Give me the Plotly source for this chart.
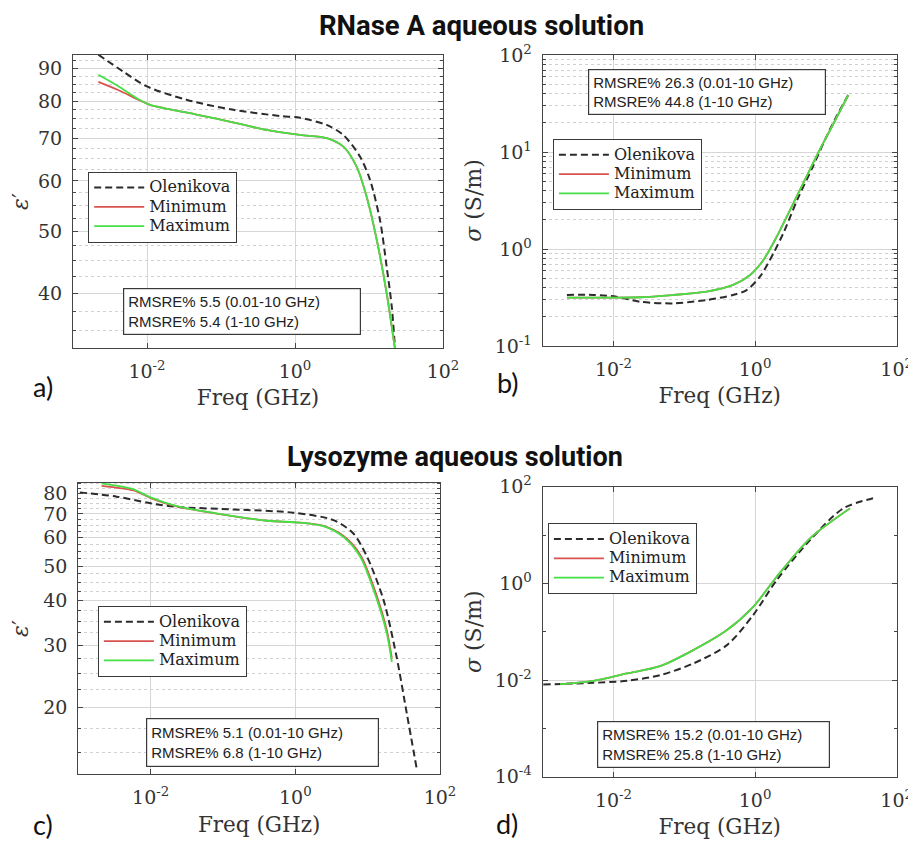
import numpy as np
import plotly.graph_objects as go

# page body has an 8px margin: figure is drawn 8px in from the window's top-left corner
OFF = 8
W, H = 916 - OFF, 842 - OFF

# ---------------- data (frequencies in GHz) ----------------
# a) RNase A, permittivity
a_ole_f = [0.0022, 0.0048, 0.01, 0.035, 0.147, 0.63, 1.17, 2.68, 4.5, 7.55, 10.3, 14.1, 17.3, 20.3, 22.4]
a_ole_v = [94.5, 88.9, 84.3, 80.3, 77.5, 75.8, 75.3, 73.4, 70.8, 65.5, 60.3, 52.1, 44.1, 38.2, 33.0]
a_mm_f = [0.0022, 0.004, 0.008, 0.011, 0.031, 0.087, 0.41, 1.17, 2.68, 4.5, 6.8, 9.3, 12.7, 17.3, 22.6]
a_min_v = [85.7, 83.3, 80.2, 78.9, 76.9, 75.1, 72.1, 70.8, 70.0, 67.9, 63.2, 56.7, 48.6, 40.1, 32.6]
a_max_v = [87.9, 84.5, 80.3, 78.9, 76.9, 75.1, 72.1, 70.8, 70.0, 67.9, 63.2, 56.7, 48.6, 40.1, 32.6]

# b) RNase A, conductivity
b_ole_f = [0.0022, 0.0052, 0.011, 0.0237, 0.07, 0.207, 0.49, 0.76, 1.17, 1.81, 2.5, 4.0, 6.5, 10.0, 14.0, 20.7]
b_ole_v = [0.336, 0.336, 0.322, 0.286, 0.275, 0.298, 0.336, 0.377, 0.518, 0.90, 1.45, 3.3, 7.0, 14.0, 23.0, 38.7]
b_mm_f = [0.0022, 0.0237, 0.07, 0.207, 0.49, 0.85, 1.31, 2.02, 3.11, 5.0, 8.0, 12.5, 20.7]
b_min_v = [0.315, 0.318, 0.336, 0.363, 0.426, 0.54, 0.77, 1.34, 2.52, 5.1, 10.2, 19.0, 38.7]
b_max_v = [0.315, 0.318, 0.336, 0.363, 0.426, 0.54, 0.77, 1.34, 2.52, 5.1, 10.2, 19.0, 38.7]

# c) Lysozyme, permittivity
c_ole_f = [0.00105, 0.0034, 0.01, 0.023, 0.139, 0.93, 3.37, 6.3, 9.8, 16.6, 25.1, 34.7, 47.9]
c_ole_v = [80.5, 78.3, 75.0, 73.3, 72.1, 70.6, 67.3, 61.8, 53.1, 40.1, 27.8, 19.3, 13.4]
c_mm_f = [0.0021, 0.0058, 0.01, 0.023, 0.081, 0.41, 1.17, 2.45, 4.6, 7.9, 13.5, 18.4, 21.6]
c_min_v = [84.0, 81.5, 77.6, 73.5, 70.2, 67.0, 66.2, 64.8, 60.8, 53.8, 41.0, 33.0, 27.5]
c_max_v = [85.3, 82.1, 77.9, 73.6, 70.3, 67.0, 66.2, 64.7, 60.4, 53.1, 40.1, 32.3, 26.9]

# d) Lysozyme, conductivity
d_ole_f = [0.00102, 0.0052, 0.0155, 0.0454, 0.134, 0.40, 0.94, 2.02, 5.97, 17.6, 52.0]
d_ole_v = [0.0081, 0.00875, 0.00964, 0.0126, 0.022, 0.0527, 0.221, 1.17, 7.87, 35.6, 60.3]
d_mm_f = [0.00176, 0.0052, 0.0155, 0.0454, 0.134, 0.40, 0.94, 2.02, 5.97, 21.9]
d_min_v = [0.0082, 0.00964, 0.0137, 0.0194, 0.0416, 0.108, 0.328, 1.37, 8.55, 35.6]
d_max_v = [0.0082, 0.00964, 0.0137, 0.0194, 0.0416, 0.108, 0.328, 1.37, 8.55, 35.6]

series_names = ["Olenikova", "Minimum", "Maximum"]
rmsre_text = {
    "a": ["RMSRE% 5.5 (0.01-10 GHz)", "RMSRE% 5.4 (1-10 GHz)"],
    "b": ["RMSRE% 26.3 (0.01-10 GHz)", "RMSRE% 44.8 (1-10 GHz)"],
    "c": ["RMSRE% 5.1 (0.01-10 GHz)", "RMSRE% 6.8 (1-10 GHz)"],
    "d": ["RMSRE% 15.2 (0.01-10 GHz)", "RMSRE% 25.8 (1-10 GHz)"],
}
x_ticks = [0.01, 1, 100]
x_ticktext = ["10<sup>-2</sup>", "10<sup>0</sup>", "10<sup>2</sup>"]
a_yticks = [40, 50, 60, 70, 80, 90]
c_yticks = [20, 30, 40, 50, 60, 70, 80]
b_yticks = [0.1, 1, 10, 100]
b_yticktext = ["10<sup>-1</sup>", "10<sup>0</sup>", "10<sup>1</sup>", "10<sup>2</sup>"]
d_yticks = [1e-4, 1e-2, 1, 100]
d_yticktext = ["10<sup>-4</sup>", "10<sup>-2</sup>", "10<sup>0</sup>", "10<sup>2</sup>"]
a_yminor = [35, 37.5, 42.5, 45, 47.5, 52.5, 55, 57.5, 62.5, 65, 67.5, 72.5, 75, 77.5, 82.5, 85, 87.5, 92.5]
c_yminor = [15, 17.5, 22.5, 25, 27.5, 32.5, 35, 37.5, 42.5, 45, 47.5, 52.5, 55, 57.5,
            62.5, 65, 67.5, 72.5, 75, 77.5, 82.5, 85]
d_yminor = [1e-3, 1e-1, 10]

# ---------------- styling ----------------
SERIF = "DejaVu Serif"
SANS = "Roboto"
NARROW = "Liberation Sans Narrow, Liberation Sans, Arial"
C_OLE = "#2b2b2b"
C_MIN = "#d9534f"
C_MAX = "#45e045"
AX = "#454545"
GRID = "#d6d6d6"


def px_x(p):
    return (p - OFF) / W


def px_y(p):
    return 1 - (p - OFF) / H


fig = go.Figure()

panels = [
    ("a", "x", "y", "legend", a_ole_f, a_ole_v, a_mm_f, a_min_v, a_max_v),
    ("b", "x2", "y2", "legend2", b_ole_f, b_ole_v, b_mm_f, b_min_v, b_max_v),
    ("c", "x3", "y3", "legend3", c_ole_f, c_ole_v, c_mm_f, c_min_v, c_max_v),
    ("d", "x4", "y4", "legend4", d_ole_f, d_ole_v, d_mm_f, d_min_v, d_max_v),
]


def lname(n):
    return '<span style="font-size:16px">' + n + "</span>"


for key, xa, ya, lg, of, ov, mf, mnv, mxv in panels:
    fig.add_trace(go.Scatter(x=of, y=ov, mode="lines", name=lname(series_names[0]), xaxis=xa, yaxis=ya,
                             legend=lg, line=dict(color=C_OLE, width=2, dash="7px,4px", shape="spline",
                                                  smoothing=0.8)))
    fig.add_trace(go.Scatter(x=mf, y=mnv, mode="lines", name=lname(series_names[1]), xaxis=xa, yaxis=ya,
                             legend=lg, line=dict(color=C_MIN, width=1.8, shape="spline", smoothing=0.8)))
    fig.add_trace(go.Scatter(x=mf, y=mxv, mode="lines", name=lname(series_names[2]), xaxis=xa, yaxis=ya,
                             legend=lg, line=dict(color=C_MAX, width=1.8, shape="spline", smoothing=0.8)))

tickfont = dict(family=SERIF, size=19, color="#333")
xtitlefont = dict(family=SERIF, size=21.5, color="#333")
ytitlefont = dict(family=SERIF, size=22, color="#333")


def xaxis(dom, anchor):
    return dict(type="log", domain=dom, anchor=anchor, range=[-3, 2.0], automargin=False,
                tickmode="array", tickvals=x_ticks, ticktext=x_ticktext,
                showline=True, linecolor=AX, linewidth=1.2, mirror="allticks",
                ticks="inside", ticklen=5, tickcolor=AX,
                showgrid=True, gridcolor=GRID, gridwidth=1,
                tickfont=tickfont, ticklabelstandoff=6,
                title=dict(text="Freq (GHz)", font=xtitlefont, standoff=9))


def yaxis(dom, anchor, rng, tv, tt, minor_vals, title, minor_grid=True, standoff=10):
    d = dict(type="log", domain=dom, anchor=anchor, range=rng, automargin=False,
             tickmode="array", tickvals=tv,
             showline=True, linecolor=AX, linewidth=1.2, mirror="allticks",
             ticks="inside", ticklen=5, tickcolor=AX,
             showgrid=True, gridcolor=GRID, gridwidth=1,
             tickfont=tickfont, ticklabelstandoff=6,
             title=dict(text=title, font=ytitlefont, standoff=standoff))
    if tt is not None:
        d["ticktext"] = tt
    minor = dict(ticks="inside", ticklen=3, tickcolor=AX, showgrid=minor_grid,
                 gridcolor="#d0d0d0", griddash="dot", gridwidth=1)
    if minor_vals == "D1":
        minor["dtick"] = "D1"
    else:
        minor["tickmode"] = "array"
        minor["tickvals"] = minor_vals
    d["minor"] = minor
    return d


dom_a_x = [px_x(73), px_x(443)]
dom_a_y = [px_y(348), px_y(55)]
dom_b_x = [px_x(542.7), px_x(896.7)]
dom_b_y = [px_y(346), px_y(55)]
dom_c_x = [px_x(78.3), px_x(440)]
dom_c_y = [px_y(774.3), px_y(482.7)]
dom_d_x = [px_x(542.7), px_x(896.7)]
dom_d_y = [px_y(776.7), px_y(486.7)]

fig.update_layout(
    xaxis=xaxis(dom_a_x, "y"),
    yaxis=yaxis(dom_a_y, "x", [np.log10(32.9), np.log10(94.4)], a_yticks, None, a_yminor,
                "<i>ε</i>′", standoff=10),
    xaxis2=xaxis(dom_b_x, "y2"),
    yaxis2=yaxis(dom_b_y, "x2", [-1, 2], b_yticks, b_yticktext, "D1", "<i>σ</i> (S/m)", standoff=6),
    xaxis3=xaxis(dom_c_x, "y3"),
    yaxis3=yaxis(dom_c_y, "x3", [np.log10(13.0), np.log10(85.7)], c_yticks, None, c_yminor,
                 "<i>ε</i>′", standoff=10),
    xaxis4=xaxis(dom_d_x, "y4"),
    yaxis4=yaxis(dom_d_y, "x4", [-4, 2], d_yticks, d_yticktext, d_yminor, "<i>σ</i> (S/m)",
                 minor_grid=False, standoff=6),
)


def legend_at(xp, yp):
    return dict(x=px_x(xp), y=px_y(yp), xanchor="left", yanchor="top", xref="paper", yref="paper",
                bgcolor="white", bordercolor="#3a3a3a", borderwidth=1.2,
                font=dict(family=SERIF, size=12.5, color="#222"), itemwidth=50,
                tracegroupgap=0)


fig.update_layout(
    legend=legend_at(88, 171.7),
    legend2=legend_at(552.7, 139),
    legend3=legend_at(97.7, 606),
    legend4=legend_at(547.7, 523.3),
)

annotations = []
boxes = {"a": (122.7, 287.7, 238, 47), "b": (588, 69.3, 238, 46),
         "c": (145.7, 717.7, 233, 49), "d": (596.7, 721, 233, 47)}
for k, (bx, by, bw, bh) in boxes.items():
    annotations.append(dict(
        text="<br>".join(rmsre_text[k]), xref="paper", yref="paper",
        x=px_x(bx), y=px_y(by), xanchor="left", yanchor="top", showarrow=False,
        align="left", valign="middle", width=bw - 10, height=bh - 10, borderpad=4,
        bordercolor="#3a3a3a", borderwidth=1.2, bgcolor="white",
        font=dict(family=NARROW, size=15, color="#222")))

# titles
annotations.append(dict(text="<b>RNase A aqueous solution</b>", xref="paper", yref="paper",
                        x=px_x(481.5), y=px_y(26), xanchor="center", yanchor="middle", showarrow=False,
                        font=dict(family=SANS, size=27.5, color="#111")))
annotations.append(dict(text="<b>Lysozyme aqueous solution</b>", xref="paper", yref="paper",
                        x=px_x(455), y=px_y(456.5), xanchor="center", yanchor="middle", showarrow=False,
                        font=dict(family=SANS, size=27, color="#111")))
# panel labels
for lab, (lx, ly) in {"a)": (43, 386), "b)": (508, 382), "c)": (43, 824), "d)": (507, 823)}.items():
    annotations.append(dict(text=lab, xref="paper", yref="paper", x=px_x(lx), y=px_y(ly),
                            xanchor="center", yanchor="middle", showarrow=False,
                            font=dict(family="Lato", size=27, color="#111")))

fig.update_layout(
    annotations=annotations,
    width=W, height=H,
    margin=dict(l=0, r=0, t=0, b=0),
    paper_bgcolor="white", plot_bgcolor="white",
    showlegend=True,
)

fig.write_html("out.html")
